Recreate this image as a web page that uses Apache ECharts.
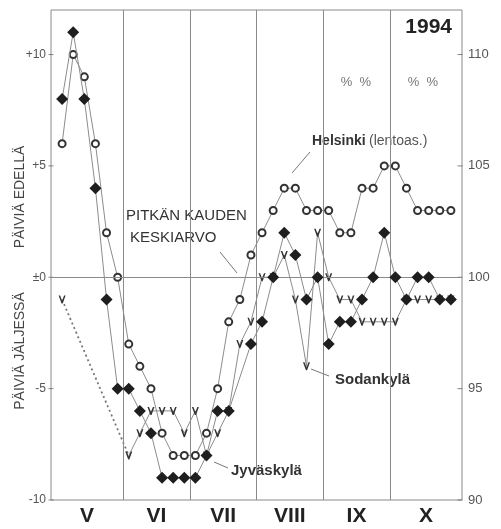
<!DOCTYPE html>
<html>
<head>
<meta charset="utf-8">
<script src="https://cdn.jsdelivr.net/npm/echarts@6/dist/echarts.min.js"></script>
<style>
    html, body { margin: 0; padding: 0; background: #fff; }
    #chart { width: 501px; height: 529px; }
</style>
</head>
<body>
<div id="chart"></div>
<script>
    // pentads (5-day periods) from May to October, index 0..35
    var months = ['V', 'VI', 'VII', 'VIII', 'IX', 'X'];
    var monthCenters = [2.25, 8.5, 14.5, 20.5, 26.5, 32.75];
    var monthBounds = [5.5, 11.5, 17.5, 23.5, 29.5];

    // days ahead (+) / behind (-) the long term mean
    var helsinki = [6, 10, 9, 6, 2, 0, -3, -4, -5, -7, -8, -8, -8, -7, -5, -2, -1, 1,
                    2, 3, 4, 4, 3, 3, 3, 2, 2, 4, 4, 5, 5, 4, 3, 3, 3, 3];
    var jyvaskyla = [8, 11, 8, 4, -1, -5, -5, -6, -7, -9, -9, -9, -9, -8, -6, -6, null, -3,
                     -2, 0, 2, 1, -1, 0, -3, -2, -2, -1, 0, 2, 0, -1, 0, 0, -1, -1];
    var sodankyla = [-1, null, null, null, null, null, -8, -7, -6, -6, -6, -7, -6, -8, -7, -6, -3, -2,
                     0, 0, 1, -1, -4, 2, 0, -1, -1, -2, -2, -2, -2, -1, -1, -1, -1, -1];

    var leftTicks = [-10, -5, 0, 5, 10];
    var rightTicks = [90, 95, 100, 105, 110];

    function pairs(arr) {
        return arr.map(function (v, i) { return [i, v]; });
    }

    // dotted link over the missing Sodankylä values
    var gap = [];
    var first = sodankyla.findIndex(function (v) { return v !== null; });
    for (var k = first + 1; k < sodankyla.length; k++) {
        if (sodankyla[k] !== null) {
            if (k > first + 1) gap = [[first, sodankyla[first]], [k, sodankyla[k]]];
            break;
        }
    }

    var font = 'Liberation Sans';
    var lineCol = '#8c8c8c';
    var vShape = 'path://M0,0 L2.2,0 L5,7 L7.8,0 L10,0 L5.8,11 L4.2,11 Z';

    var chart = echarts.init(document.getElementById('chart'));
    chart.setOption({
        animation: false,
        grid: {
            left: 51, right: 39, top: 10, bottom: 29,
            show: true, borderColor: '#8a8a8a', borderWidth: 1
        },
        xAxis: {
            type: 'value', min: -1, max: 36,
            axisLine: { show: false },
            splitLine: { show: false },
            axisTick: { show: false },
            axisLabel: {
                customValues: monthCenters,
                formatter: function (v) {
                    var i = monthCenters.indexOf(v);
                    return i >= 0 ? months[i] : '';
                },
                color: '#222', fontFamily: font, fontWeight: 'bold', fontSize: 21, margin: 6
            }
        },
        yAxis: [{
            type: 'value', min: -10, max: 12, interval: 5, position: 'left',
            axisLine: { show: false },
            splitLine: { show: false },
            axisTick: { show: false },
            axisLabel: {
                customValues: leftTicks,
                color: '#555', fontFamily: font, fontSize: 12, margin: 5,
                formatter: function (v) {
                    return v > 0 ? '+' + v : (v === 0 ? '±0' : String(v));
                }
            }
        }, {
            type: 'value', min: 90, max: 112, interval: 5, position: 'right',
            axisLine: { show: false },
            splitLine: { show: false },
            axisTick: { show: false },
            axisLabel: {
                customValues: rightTicks,
                color: '#555', fontFamily: font, fontSize: 13, margin: 6
            }
        }],
        series: [{
            name: 'grid lines', type: 'line', data: [], silent: true,
            markLine: {
                silent: true, symbol: 'none', label: { show: false },
                lineStyle: { color: '#8a8a8a', width: 1, type: 'solid' },
                data: monthBounds.map(function (b) { return { xAxis: b }; }).concat([{ yAxis: 0 }])
            }
        }, {
            // short tick marks on the left and right frame
            name: 'left ticks', type: 'scatter', clip: false, silent: true,
            data: leftTicks.map(function (v) { return [-1, v]; }),
            symbol: 'rect', symbolSize: [5, 1], itemStyle: { color: '#666' }
        }, {
            name: 'right ticks', type: 'scatter', clip: false, silent: true, yAxisIndex: 1,
            data: rightTicks.map(function (v) { return [36, v]; }),
            symbol: 'rect', symbolSize: [5, 1], symbolOffset: [-2, 0], itemStyle: { color: '#666' }
        }, {
            name: 'Sodankylä gap', type: 'line', data: gap, symbol: 'none',
            lineStyle: { color: '#777', width: 1.8, type: [2, 3] }, z: 2
        }, {
            name: 'Helsinki', type: 'line', data: pairs(helsinki),
            symbol: 'emptyCircle', symbolSize: 7,
            lineStyle: { color: lineCol, width: 1 },
            itemStyle: { color: '#333', borderWidth: 1.6 }, z: 4
        }, {
            name: 'Sodankylä', type: 'line', data: pairs(sodankyla),
            symbol: vShape, symbolSize: [7, 8],
            lineStyle: { color: lineCol, width: 1 },
            itemStyle: { color: '#333' }, z: 3
        }, {
            name: 'Jyväskylä', type: 'line', data: pairs(jyvaskyla), connectNulls: true,
            symbol: 'diamond', symbolSize: 12,
            lineStyle: { color: lineCol, width: 1 },
            itemStyle: { color: '#1e1e1e' }, z: 5
        }],
        graphic: [
            { type: 'text', x: 20, y: 197, rotation: Math.PI / 2,
              style: { text: 'PÄIVIÄ EDELLÄ', font: '14px "Liberation Sans"', fill: '#444', align: 'center', verticalAlign: 'middle' } },
            { type: 'text', x: 20, y: 351, rotation: Math.PI / 2,
              style: { text: 'PÄIVIÄ JÄLJESSÄ', font: '14px "Liberation Sans"', fill: '#444', align: 'center', verticalAlign: 'middle' } },
            { type: 'text', x: 452, y: 27,
              style: { text: '1994', font: 'bold 21px "Liberation Sans"', fill: '#222', align: 'right', verticalAlign: 'middle' } },
            { type: 'text', x: 356, y: 82,
              style: { text: '%  %', font: '13px "Liberation Sans"', fill: '#777', align: 'center', verticalAlign: 'middle' } },
            { type: 'text', x: 423, y: 82,
              style: { text: '%  %', font: '13px "Liberation Sans"', fill: '#777', align: 'center', verticalAlign: 'middle' } },
            { type: 'text', x: 312, y: 141,
              style: {
                  text: '{b|Helsinki} {n|(lentoas.)}', verticalAlign: 'middle',
                  rich: {
                      b: { font: 'bold 14px "Liberation Sans"', fill: '#333' },
                      n: { font: '14px "Liberation Sans"', fill: '#555' }
                  }
              } },
            { type: 'line', shape: { x1: 310, y1: 152, x2: 292, y2: 173 }, style: { stroke: '#777', lineWidth: 1 } },
            { type: 'text', x: 126, y: 216,
              style: { text: 'PITKÄN KAUDEN', font: '15px "Liberation Sans"', fill: '#333', verticalAlign: 'middle' } },
            { type: 'text', x: 130, y: 238,
              style: { text: 'KESKIARVO', font: '15px "Liberation Sans"', fill: '#333', verticalAlign: 'middle' } },
            { type: 'line', shape: { x1: 220, y1: 252, x2: 237, y2: 273 }, style: { stroke: '#777', lineWidth: 1 } },
            { type: 'text', x: 335, y: 380,
              style: { text: 'Sodankylä', font: 'bold 15px "Liberation Sans"', fill: '#333', verticalAlign: 'middle' } },
            { type: 'line', shape: { x1: 311, y1: 369, x2: 329, y2: 376 }, style: { stroke: '#777', lineWidth: 1 } },
            { type: 'text', x: 231, y: 471,
              style: { text: 'Jyväskylä', font: 'bold 15px "Liberation Sans"', fill: '#333', verticalAlign: 'middle' } },
            { type: 'line', shape: { x1: 214, y1: 462, x2: 228, y2: 468 }, style: { stroke: '#777', lineWidth: 1 } }
        ]
    });
</script>
</body>
</html>
